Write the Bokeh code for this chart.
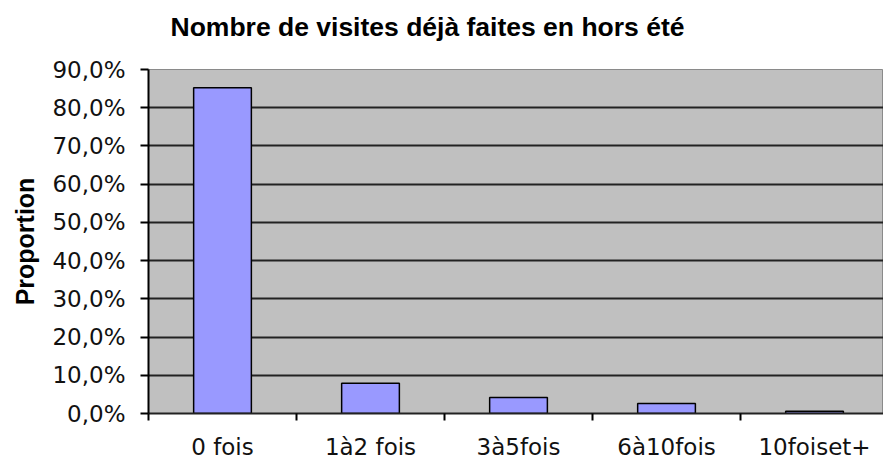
from bokeh.plotting import figure
from bokeh.models import Range1d, FixedTicker, Title
from bokeh.embed import file_html
from bokeh.resources import INLINE

categories = ["0 fois", "1à2 fois", "3à5fois", "6à10fois", "10foiset+"]
proportions = [85.2, 7.9, 4.2, 2.6, 0.6]
y_ticks = [0, 10, 20, 30, 40, 50, 60, 70, 80, 90]
y_tick_labels = ["0,0%", "10,0%", "20,0%", "30,0%", "40,0%", "50,0%", "60,0%", "70,0%", "80,0%", "90,0%"]
title_text = "Nombre de visites déjà faites en hors été"
y_label = "Proportion"

n = len(categories)
centers = [i + 0.5 for i in range(n)]
bounds = [float(i) for i in range(n)]

p = figure(width=883, height=461, output_backend="svg", toolbar_location=None,
           x_range=Range1d(0, 4.966), y_range=Range1d(0, 90),
           min_border_left=148, min_border_right=0, min_border_top=69, min_border_bottom=48,
           frame_width=735, frame_height=344)

# real title (outermost panel) and a blank spacer panel between it and the frame
p.title = Title(text=title_text, align="left", offset=22, standoff=19, vertical_align="bottom",
                text_font="Liberation Sans", text_font_size="26.5px", text_font_style="bold",
                text_color="black")
p.add_layout(Title(text=" ", standoff=5, text_font="Liberation Sans", text_font_size="10px"), "above")

p.background_fill_color = "#C0C0C0"
p.border_fill_color = "white"
p.outline_line_color = "#8a8a8a"
p.outline_line_width = 1

p.vbar(x=centers, top=proportions, width=0.39, fill_color="#9999FF",
       line_color="black", line_width=1.5)

# y axis
yt = FixedTicker(ticks=y_ticks)
p.yaxis.ticker = yt
p.yaxis.major_label_overrides = {t: l for t, l in zip(y_ticks, y_tick_labels)}
p.yaxis.axis_line_color = "black"
p.yaxis.axis_line_width = 2
p.yaxis.major_tick_out = 8
p.yaxis.major_tick_in = 0
p.yaxis.major_tick_line_width = 2
p.yaxis.minor_tick_line_color = None
p.yaxis.major_label_standoff = 15
p.yaxis.major_label_text_font = "DejaVu Sans"
p.yaxis.major_label_text_font_size = "23px"
p.yaxis.major_label_text_color = "#111111"
p.yaxis.axis_label = y_label
p.yaxis.axis_label_text_font = "Liberation Sans"
p.yaxis.axis_label_text_font_size = "25px"
p.yaxis.axis_label_text_font_style = "bold"
p.yaxis.axis_label_text_color = "black"
p.yaxis.axis_label_standoff = 10

# x axis
xt = FixedTicker(ticks=centers, minor_ticks=bounds)
p.xaxis.ticker = xt
p.xaxis.major_label_overrides = {c: l for c, l in zip(centers, categories)}
p.xaxis.major_tick_line_color = None
p.xaxis.major_tick_out = 7
p.xaxis.minor_tick_out = 7
p.xaxis.minor_tick_in = 0
p.xaxis.minor_tick_line_color = "black"
p.xaxis.minor_tick_line_width = 2
p.xaxis.axis_line_color = "#222222"
p.xaxis.axis_line_width = 2
p.xaxis.major_label_standoff = 13
p.xaxis.major_label_text_font = "DejaVu Sans"
p.xaxis.major_label_text_font_size = "23px"
p.xaxis.major_label_text_color = "#111111"

p.xgrid.grid_line_color = None
p.ygrid.ticker = FixedTicker(ticks=y_ticks[1:-1])
p.ygrid.grid_line_color = "#222222"
p.ygrid.grid_line_width = 2

open("out.html", "w").write(file_html(p, INLINE))
